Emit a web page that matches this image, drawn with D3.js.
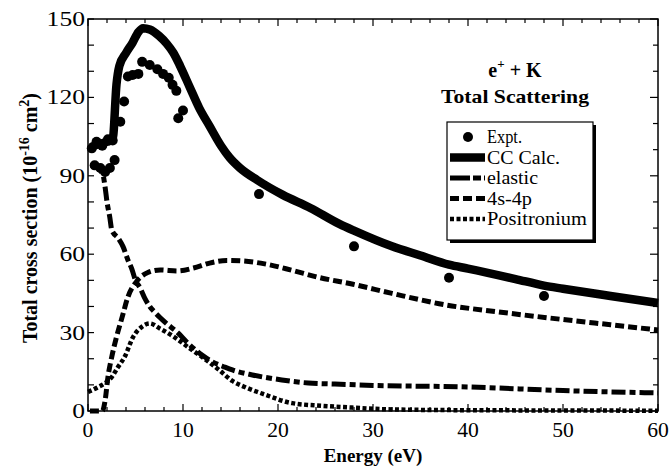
<!DOCTYPE html>
<html>
<head>
<meta charset="utf-8">
<script src="https://cdn.jsdelivr.net/npm/d3@7"></script>
<style>
  body { margin: 0; background: #fff; }
</style>
</head>
<body>
<div id="chart"></div>
<script>
const WIDTH = 670;
const HEIGHT = 467;
const FONT = "'Liberation Serif', 'Times New Roman', Tinos, 'DejaVu Serif', serif";

// experimental points (energy eV, cross section)
const exptE = [0.4, 0.9, 1.5, 2.1, 2.6, 0.7, 1.3, 1.8, 2.3, 2.8, 3.4, 3.8, 4.2, 4.7, 5.3, 5.7, 6.5, 7.3, 7.9, 8.5, 8.9, 9.3, 9.5, 10, 18, 28, 38, 48];
const exptV = [100.5, 103, 101.5, 104, 103.5, 94, 93, 91.5, 93, 96, 110.7, 118.4, 128, 128.6, 129, 133.6, 132.4, 130.8, 129, 127.5, 124.8, 122.5, 112, 115, 83, 63, 51, 44];

// CC calculation
const ccE = [0.3, 1, 2, 2.6, 3.0, 3.3, 4, 4.7, 5.3, 5.8, 6.5, 7.5, 8.3, 9, 9.7, 10.7, 11.7, 12.8, 14, 14.9, 16, 17.8, 20.5, 23.4, 26.5, 28, 32, 35, 38, 40, 45, 48, 50, 55, 60];
const ccV = [101, 102, 103, 104, 125, 132, 137, 141, 145, 146.5, 146, 143.5, 140.5, 137, 132, 124, 116, 109, 101.5, 97, 93, 88.4, 82.7, 77.7, 71.5, 69, 63, 59.5, 56, 54.5, 50.5, 48, 46.8, 44, 41.3];

// elastic
const elE = [0.3, 1, 1.6, 1.8, 2.0, 2.3, 2.5, 3.2, 3.7, 4.2, 4.6, 5.0, 5.5, 6, 6.5, 7.1, 8.1, 9.5, 10.5, 12, 13.1, 14.4, 15.2, 17.3, 20.4, 23.2, 26, 30, 40, 50, 60];
const elV = [94, 93, 90, 85.7, 80, 74, 69.3, 66, 62.8, 57.8, 54.5, 50, 47, 43, 40, 37.5, 34, 29.8, 26, 21.4, 18.8, 16.8, 15.7, 13.8, 11.9, 10.7, 10.3, 9.8, 9.2, 7.8, 6.9];

// 4s-4p excitation
const exE = [0.2, 1.5, 1.8, 2.1, 2.5, 3, 3.6, 4.2, 5.1, 6.3, 7.6, 9.4, 11.1, 12.8, 14.6, 16.3, 18.6, 21.5, 24.2, 27.9, 32, 37.8, 43, 50, 55, 60];
const exV = [0, 0, 4, 13, 20.7, 28.3, 36, 43.6, 49.5, 53, 54, 53.6, 54.7, 56.6, 57.6, 57.4, 56.3, 53.8, 51.2, 48.5, 45, 40.5, 38, 35, 33, 31];

// positronium formation
const psE = [0, 1, 1.8, 2.5, 3.1, 3.9, 4.7, 5.7, 6.5, 7.6, 9.2, 10.5, 12, 13.7, 15.2, 16.5, 18.6, 21.5, 24.6, 27.8, 32, 40, 50, 60];
const psV = [7.3, 9, 10.7, 13, 16.5, 21, 28, 32.3, 33.5, 31.5, 28, 24.5, 20.7, 16, 11.5, 9.2, 6.3, 3, 2, 1.3, 0.6, 0.3, 0.2, 0.1];

const xTicks = [0, 10, 20, 30, 40, 50, 60];
const yTicks = [0, 30, 60, 90, 120, 150];

const legendLabels = ['Expt.', 'CC Calc.', 'elastic', '4s-4p', 'Positronium'];
const legendWidths = [35, 73, 51, 45, 100];

const margin = { left: 88, right: 12, top: 19, bottom: 56 };

const x = d3.scaleLinear().domain([0, 60]).range([margin.left, WIDTH - margin.right]);
const y = d3.scaleLinear().domain([0, 150]).range([HEIGHT - margin.bottom, margin.top]);

const svg = d3.select('#chart').append('svg')
  .attr('width', WIDTH)
  .attr('height', HEIGHT)
  .attr('font-family', FONT)
  .style('display', 'block');

const zip = (a, b) => a.map((d, i) => [d, b[i]]);

const line = d3.line()
  .x(d => x(d[0]))
  .y(d => y(d[1]))
  .curve(d3.curveMonotoneX);

// curves
const series = [
  { data: zip(elE, elV), width: 5, dash: '14,4,6,4' },
  { data: zip(exE, exV), width: 5, dash: '9,4' },
  { data: zip(psE, psV), width: 4.5, dash: '4,2.5' },
  { data: zip(ccE, ccV), width: 8.5, dash: null }
];

series.forEach(s => {
  svg.append('path')
    .attr('d', line(s.data))
    .attr('fill', 'none')
    .attr('stroke', '#000')
    .attr('stroke-width', s.width)
    .attr('stroke-dasharray', s.dash)
    .attr('stroke-linejoin', 'round');
});

svg.append('g').selectAll('circle')
  .data(zip(exptE, exptV))
  .join('circle')
    .attr('cx', d => x(d[0]))
    .attr('cy', d => y(d[1]))
    .attr('r', 5)
    .attr('fill', '#000');

// frame, ticks point inward on all four sides
const x0 = x.range()[0], x1 = x.range()[1];
const y0 = y.range()[0], y1 = y.range()[1];

svg.append('rect')
  .attr('x', x0).attr('y', y1)
  .attr('width', x1 - x0).attr('height', y0 - y1)
  .attr('fill', 'none').attr('stroke', '#000').attr('stroke-width', 1.5);

const xMinor = d3.range(0, 61, 2);
const yMinor = d3.range(0, 151, 10);

const ticks = svg.append('g').attr('stroke', '#000').attr('stroke-width', 1.2);
xMinor.forEach(v => {
  const len = v % 10 === 0 ? 7 : 4;
  ticks.append('line').attr('x1', x(v)).attr('x2', x(v)).attr('y1', y0).attr('y2', y0 - len);
  ticks.append('line').attr('x1', x(v)).attr('x2', x(v)).attr('y1', y1).attr('y2', y1 + len);
});
yMinor.forEach(v => {
  const len = v % 30 === 0 ? 8 : 5;
  ticks.append('line').attr('y1', y(v)).attr('y2', y(v)).attr('x1', x0).attr('x2', x0 + 6);
  ticks.append('line').attr('y1', y(v)).attr('y2', y(v)).attr('x1', x1).attr('x2', x1 - len);
});

// tick labels
svg.append('g').selectAll('text')
  .data(xTicks)
  .join('text')
    .attr('x', d => x(d))
    .attr('y', y0 + 26)
    .attr('text-anchor', 'middle')
    .attr('font-size', 20)
    .attr('textLength', d => String(d).length * 10.8)
    .attr('lengthAdjust', 'spacingAndGlyphs')
    .text(d => d);

svg.append('g').selectAll('text')
  .data(yTicks)
  .join('text')
    .attr('x', x0 - 3)
    .attr('y', d => y(d) + 7)
    .attr('text-anchor', 'end')
    .attr('font-size', 20)
    .attr('textLength', d => String(d).length * 12.8)
    .attr('lengthAdjust', 'spacingAndGlyphs')
    .text(d => d);

// axis titles
svg.append('text')
  .attr('x', 373)
  .attr('y', HEIGHT - 5)
  .attr('text-anchor', 'middle')
  .attr('font-size', 19)
  .attr('font-weight', 'bold')
  .text('Energy (eV)');

const yl = svg.append('text')
  .attr('transform', `translate(37,218) rotate(-90)`)
  .attr('text-anchor', 'middle')
  .attr('font-size', 20)
  .attr('font-weight', 'bold');
yl.append('tspan').text('Total cross section (10');
yl.append('tspan').attr('font-size', 14).attr('dy', -8).text('-16');
yl.append('tspan').attr('dy', 8).text(' cm');
yl.append('tspan').attr('font-size', 14).attr('dy', -8).text('2');
yl.append('tspan').attr('dy', 8).text(')');

// title
const t1 = svg.append('text')
  .attr('x', 515).attr('y', 77)
  .attr('text-anchor', 'middle')
  .attr('font-size', 20).attr('font-weight', 'bold');
t1.append('tspan').text('e');
t1.append('tspan').attr('font-size', 13).attr('dy', -9).text('+');
t1.append('tspan').attr('dy', 9).text(' + K');

svg.append('text')
  .attr('x', 515).attr('y', 103)
  .attr('text-anchor', 'middle')
  .attr('font-size', 19).attr('font-weight', 'bold')
  .attr('textLength', 148)
  .attr('lengthAdjust', 'spacingAndGlyphs')
  .text('Total Scattering');

// legend
const lg = svg.append('g').attr('transform', 'translate(447,122)');
lg.append('rect').attr('x', 3).attr('y', 3).attr('width', 146).attr('height', 118).attr('fill', '#000');
lg.append('rect').attr('x', 0).attr('y', 0).attr('width', 146).attr('height', 118)
  .attr('fill', '#fff').attr('stroke', '#000').attr('stroke-width', 1.2);

const rowH = 20.5;
legendLabels.forEach((lab, i) => {
  const cy = 15 + i * rowH;
  if (i === 0) {
    lg.append('circle').attr('cx', 21).attr('cy', cy).attr('r', 5).attr('fill', '#000');
  } else {
    const s = series[[3, 0, 1, 2][i - 1]];
    lg.append('line')
      .attr('x1', 3).attr('x2', 38).attr('y1', cy).attr('y2', cy)
      .attr('stroke', '#000')
      .attr('stroke-width', s.width)
      .attr('stroke-dasharray', i === 2 ? '20,3,8,3' : s.dash);
  }
  lg.append('text')
    .attr('x', 40).attr('y', cy + 6)
    .attr('font-size', 18)
    .attr('textLength', legendWidths[i])
    .attr('lengthAdjust', 'spacingAndGlyphs')
    .text(lab);
});
</script>
</body>
</html>
